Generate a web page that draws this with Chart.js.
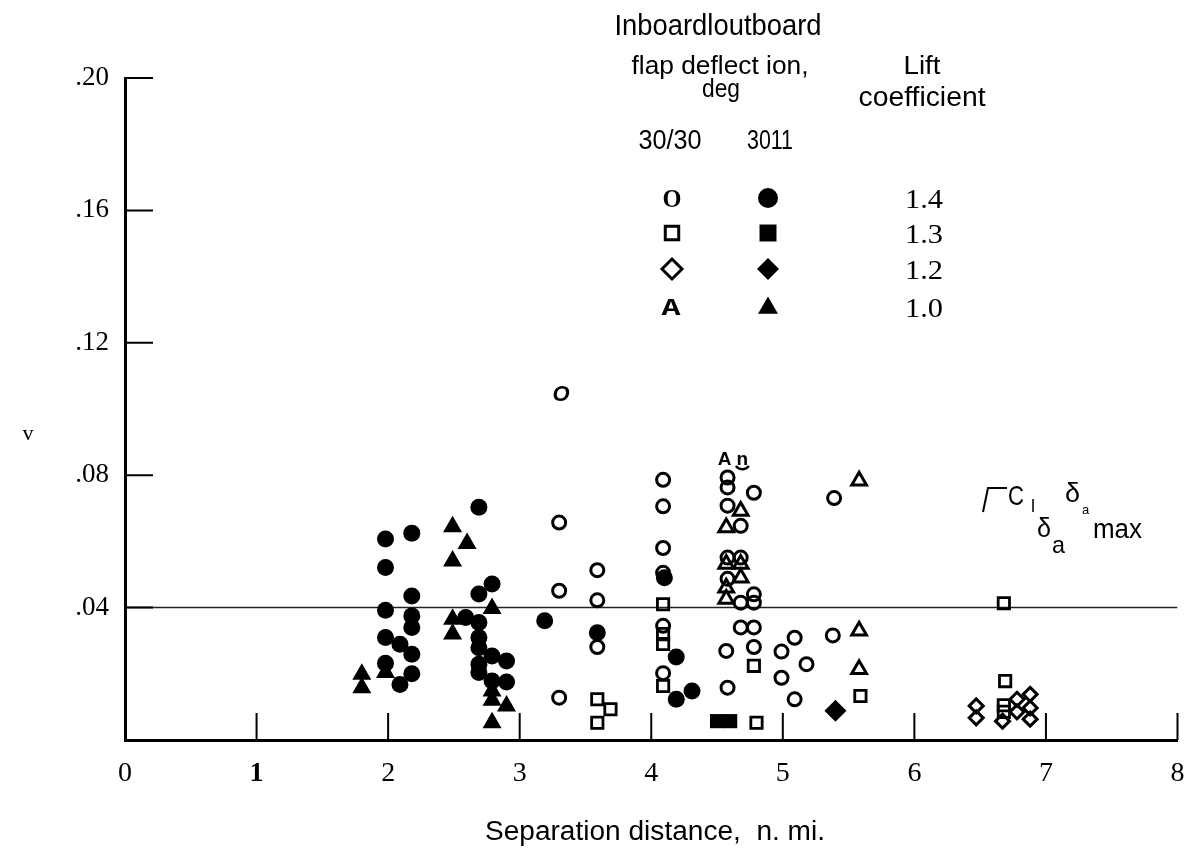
<!DOCTYPE html>
<html>
<head>
<meta charset="utf-8">
<script src="https://cdn.jsdelivr.net/npm/chart.js@4.4.1/dist/chart.umd.min.js"></script>
<style>
  html, body { margin: 0; padding: 0; background: #fff; }
</style>
</head>
<body>
<canvas id="chart" width="1189" height="852"></canvas>
<script>
  // ---- data ----
  var xTickLabels = ['0', '1', '2', '3', '4', '5', '6', '7', '8'];
  var yTickValues = [0.04, 0.08, 0.12, 0.16, 0.20];
  var yTickLabels = ['.04', '.08', '.12', '.16', '.20'];

  // 30/30, lift coefficient 1.4 (open circles)
  var openCircleX = [3.30, 3.30, 3.30, 3.59, 3.59, 3.59, 4.09, 4.09, 4.09, 4.09, 4.09, 4.09,
                     4.58, 4.58, 4.58, 4.58, 4.58, 4.57, 4.58, 4.68, 4.68, 4.68, 4.68,
                     4.78, 4.78, 4.78, 4.78, 4.78, 4.99, 4.99, 5.09, 5.09, 5.18, 5.39, 5.38];
  var openCircleV = [0.0657, 0.0451, 0.0128, 0.0513, 0.0422, 0.0281, 0.0786, 0.0706, 0.0580, 0.0505, 0.0345, 0.0202,
                     0.0793, 0.0763, 0.0708, 0.0551, 0.0487, 0.0269, 0.0158, 0.0647, 0.0551, 0.0415, 0.0340,
                     0.0747, 0.0440, 0.0415, 0.0340, 0.0281, 0.0267, 0.0188, 0.0309, 0.0123, 0.0229, 0.0731, 0.0316];
  // 30/11, 1.4 (filled circles)
  var fillCircleX = [1.98, 1.98, 1.98, 1.98, 1.98, 2.09, 2.09, 2.18, 2.18, 2.18, 2.18, 2.18, 2.18,
                     2.59, 2.69, 2.69, 2.69, 2.69, 2.69, 2.69, 2.69, 2.79, 2.79, 2.79, 2.90, 2.90,
                     3.19, 3.59, 4.10, 4.19, 4.19, 4.31];
  var fillCircleV = [0.0607, 0.0521, 0.0392, 0.0310, 0.0232, 0.0289, 0.0168, 0.0625, 0.0435, 0.0375, 0.0340, 0.0259, 0.0200,
                     0.0370, 0.0703, 0.0441, 0.0355, 0.0310, 0.0279, 0.0229, 0.0204, 0.0471, 0.0254, 0.0178, 0.0239, 0.0175,
                     0.0360, 0.0324, 0.0490, 0.0251, 0.0123, 0.0148];
  // 30/30, 1.3 (open squares)
  var openSquareX = [3.59, 3.59, 3.69, 4.09, 4.09, 4.09, 4.09, 4.78, 4.80, 5.59, 6.68, 6.69, 6.68, 6.68];
  var openSquareV = [0.0123, 0.0052, 0.0093, 0.0410, 0.0320, 0.0290, 0.0163, 0.0224, 0.0052, 0.0133, 0.0413, 0.0178, 0.0105, 0.0085];
  // 30/11, 1.3 (filled squares)
  var fillSquareX = [4.50, 4.60];
  var fillSquareV = [0.0057, 0.0057];
  // 30/30, 1.2 (open diamonds)
  var openDiamondX = [6.47, 6.47, 6.67, 6.78, 6.78, 6.88, 6.88, 6.88];
  var openDiamondV = [0.0103, 0.0067, 0.0057, 0.0123, 0.0085, 0.0138, 0.0097, 0.0063];
  // 30/11, 1.2 (filled diamond)
  var fillDiamondX = [5.40];
  var fillDiamondV = [0.0088];
  // 30/30, 1.0 (open triangles)
  var openTriangleX = [4.57, 4.57, 4.57, 4.57, 4.68, 4.68, 4.68, 5.58, 5.58, 5.58];
  var openTriangleV = [0.0642, 0.0532, 0.0460, 0.0426, 0.0692, 0.0532, 0.0490, 0.0783, 0.0330, 0.0214];
  // 30/11, 1.0 (filled triangles)
  var fillTriangleX = [1.80, 1.80, 1.98, 2.49, 2.49, 2.49, 2.49, 2.60, 2.79, 2.79, 2.79, 2.79, 2.90];
  var fillTriangleV = [0.0199, 0.0158, 0.0204, 0.0644, 0.0541, 0.0365, 0.0320, 0.0594, 0.0397, 0.0148, 0.0120, 0.0052, 0.0103];

  // reference level line
  var refLineX = [0, 8];
  var refLineV = [0.04, 0.04];

  // marks that appear as letters in the picture
  var textMarkLabels = ['O', 'A', 'n'];
  var textMarkX = [3.314, 4.557, 4.693];
  var textMarkV = [0.1042, 0.0848, 0.0848];

  var legendCols = ['30/30', '3011'];
  var legendLift = ['1.4', '1.3', '1.2', '1.0'];

  var SERIF = '"Liberation Serif", "Times New Roman", serif';
  var SANS = '"Liberation Sans", Arial, sans-serif';

  function pts(xs, vs) {
    return xs.map(function(x, i) { return { x: x, y: vs[i] }; });
  }

  function series(label, xs, vs, style, radius, filled, bw) {
    return {
      label: label,
      data: pts(xs, vs),
      showLine: false,
      pointStyle: style,
      pointRadius: radius,
      pointHoverRadius: radius,
      pointBorderWidth: bw,
      pointBorderColor: '#000',
      pointBackgroundColor: filled ? '#000' : 'rgba(0,0,0,0)',
      clip: false
    };
  }

  // text squeezed to a given width (the scan uses a condensed face)
  function fitText(ctx, text, x, y, font, width, align) {
    ctx.save();
    ctx.font = font;
    var w = ctx.measureText(text).width;
    var s = width ? width / w : 1;
    ctx.translate(x, y);
    ctx.scale(s, 1);
    ctx.textAlign = align || 'center';
    ctx.textBaseline = 'alphabetic';
    ctx.fillStyle = '#000';
    ctx.fillText(text, 0, 0);
    ctx.restore();
  }

  function symbol(ctx, style, radius, filled, bw, x, y) {
    ctx.save();
    ctx.fillStyle = filled ? '#000' : 'rgba(0,0,0,0)';
    ctx.strokeStyle = '#000';
    ctx.lineWidth = bw;
    Chart.helpers.drawPoint(ctx, { pointStyle: style, radius: radius, borderWidth: bw, rotation: 0 }, x, y);
    ctx.restore();
  }

  var inwardTicks = {
    id: 'inwardTicks',
    afterDraw: function(chart) {
      var ctx = chart.ctx, xs = chart.scales.x, ys = chart.scales.y, a = chart.chartArea;
      ctx.save();
      ctx.strokeStyle = '#000';
      ctx.lineWidth = 2;
      ctx.beginPath();
      for (var i = 1; i < xTickLabels.length; i++) {
        var px = xs.getPixelForValue(i);
        ctx.moveTo(px, a.bottom);
        ctx.lineTo(px, a.bottom - 27);
      }
      yTickValues.forEach(function(v) {
        var py = ys.getPixelForValue(v);
        ctx.moveTo(a.left, py);
        ctx.lineTo(a.left + 28, py);
      });
      ctx.stroke();
      ctx.restore();
    }
  };

  var letterMarks = {
    id: 'letterMarks',
    afterDatasetsDraw: function(chart) {
      var ctx = chart.ctx, xs = chart.scales.x, ys = chart.scales.y;
      ctx.save();
      ctx.fillStyle = '#000';
      ctx.textAlign = 'center';
      ctx.textBaseline = 'middle';
      textMarkLabels.forEach(function(t, i) {
        var px = xs.getPixelForValue(textMarkX[i]);
        var py = ys.getPixelForValue(textMarkV[i]);
        ctx.font = (i === 0 ? 'bold italic 22px ' : 'bold 19px ') + SANS;
        ctx.fillText(t, px, py);
        if (t === 'n') {
          ctx.strokeStyle = '#000';
          ctx.lineWidth = 2.5;
          ctx.beginPath();
          ctx.arc(px, py + 2, 8, 0.2 * Math.PI, 0.8 * Math.PI);
          ctx.stroke();
        }
      });
      ctx.restore();
    }
  };

  var keyAndNotes = {
    id: 'keyAndNotes',
    afterDraw: function(chart) {
      var ctx = chart.ctx;
      // key heading
      fitText(ctx, 'Inboardloutboard', 718, 35, '30px ' + SANS, 207);
      fitText(ctx, 'flap deflect ion,', 720, 74, '26px ' + SANS, 177);
      fitText(ctx, 'deg', 721, 97, '25px ' + SANS, 38);
      fitText(ctx, 'Lift', 922, 74, '26px ' + SANS, 37);
      fitText(ctx, 'coefficient', 922, 106, '27px ' + SANS, 127);
      fitText(ctx, legendCols[0], 670, 149, '28px ' + SANS, 63);
      fitText(ctx, legendCols[1], 770, 149, '28px ' + SANS, 46);

      var rows = [198, 233, 269, 307];
      legendLift.forEach(function(t, i) {
        fitText(ctx, t, 924, rows[i] + 10, '27px ' + SERIF, 38);
      });
      // 30/30 column
      fitText(ctx, 'O', 672, 207, 'bold 25px ' + SERIF, 19);
      symbol(ctx, 'rect', 9.5, false, 3, 672, rows[1]);
      symbol(ctx, 'rectRot', 10, false, 3, 672, rows[2]);
      fitText(ctx, 'A', 671, 315, 'bold 24px "Liberation Mono", monospace', 19);
      // 30/11 column
      symbol(ctx, 'circle', 10, true, 0, 768, rows[0]);
      symbol(ctx, 'rect', 12, true, 0, 768, rows[1]);
      symbol(ctx, 'rectRot', 11, true, 0, 768, rows[2]);
      symbol(ctx, 'triangle', 11.5, true, 0, 768, rows[3] + 1);

      // axis titles
      fitText(ctx, 'Separation distance,  n. mi.', 655, 840, '27px ' + SANS, 340);
      fitText(ctx, 'v', 28, 440, '22px ' + SERIF);

      // label on the reference line
      ctx.save();
      ctx.strokeStyle = '#000';
      ctx.lineWidth = 2;
      ctx.beginPath();
      ctx.moveTo(983, 512);
      ctx.lineTo(988, 488);
      ctx.lineTo(1007, 488);
      ctx.stroke();
      ctx.restore();
      fitText(ctx, 'C', 1008, 505, '28px ' + SANS, 16, 'left');
      fitText(ctx, 'l', 1031, 512, '18px ' + SANS, null, 'left');
      fitText(ctx, '\u03b4', 1065, 502, '27px ' + SANS, 15, 'left');
      fitText(ctx, 'a', 1082, 514, '13px ' + SANS, null, 'left');
      fitText(ctx, '\u03b4', 1037, 537, '27px ' + SANS, 14, 'left');
      fitText(ctx, 'a', 1052, 553, '24px ' + SANS, 13, 'left');
      fitText(ctx, 'max', 1093, 538, '27px ' + SANS, 49, 'left');
    }
  };

  var datasets = [
    series('30/30 1.4', openCircleX, openCircleV, 'circle', 6.5, false, 3),
    series('30/11 1.4', fillCircleX, fillCircleV, 'circle', 8.5, true, 0),
    series('30/30 1.3', openSquareX, openSquareV, 'rect', 8, false, 2.8),
    series('30/11 1.3', fillSquareX, fillSquareV, 'rect', 10, true, 0),
    series('30/30 1.2', openDiamondX, openDiamondV, 'rectRot', 7, false, 3),
    series('30/11 1.2', fillDiamondX, fillDiamondV, 'rectRot', 11, true, 0),
    series('30/30 1.0', openTriangleX, openTriangleV, 'triangle', 8.5, false, 3),
    series('30/11 1.0', fillTriangleX, fillTriangleV, 'triangle', 11, true, 0),
    {
      label: 'reference',
      data: pts(refLineX, refLineV),
      showLine: true,
      borderColor: '#222',
      borderWidth: 1.5,
      pointRadius: 0,
      fill: false
    }
  ];

  new Chart(document.getElementById('chart'), {
    type: 'scatter',
    data: { datasets: datasets },
    options: {
      responsive: false,
      animation: false,
      events: [],
      layout: { padding: { left: 0, right: 6, top: 78, bottom: 52 } },
      plugins: { legend: { display: false }, tooltip: { enabled: false } },
      scales: {
        x: {
          type: 'linear', min: 0, max: 8,
          afterFit: function(s) { s.height = 60; s.paddingLeft = 0; s.paddingRight = 0; },
          grid: { display: false, drawTicks: false },
          border: { display: true, color: '#000', width: 3 },
          ticks: {
            stepSize: 1, padding: 17, color: '#000',
            callback: function(v) { return xTickLabels[Math.round(v)]; },
            font: function(c) {
              return { family: SERIF, size: 28, weight: (c.tick && c.tick.value === 1) ? 'bold' : 'normal' };
            }
          }
        },
        y: {
          type: 'linear', min: 0, max: 0.2,
          afterFit: function(s) { s.width = 125; s.paddingTop = 0; s.paddingBottom = 0; },
          grid: { display: false, drawTicks: false },
          border: { display: true, color: '#000', width: 3 },
          ticks: {
            stepSize: 0.04, padding: 16, color: '#000',
            callback: function(v) {
              for (var i = 0; i < yTickValues.length; i++) {
                if (Math.abs(yTickValues[i] - v) < 1e-6) return yTickLabels[i];
              }
              return '';
            },
            font: { family: SERIF, size: 27 }
          }
        }
      }
    },
    plugins: [inwardTicks, letterMarks, keyAndNotes]
  });
</script>
</body>
</html>
